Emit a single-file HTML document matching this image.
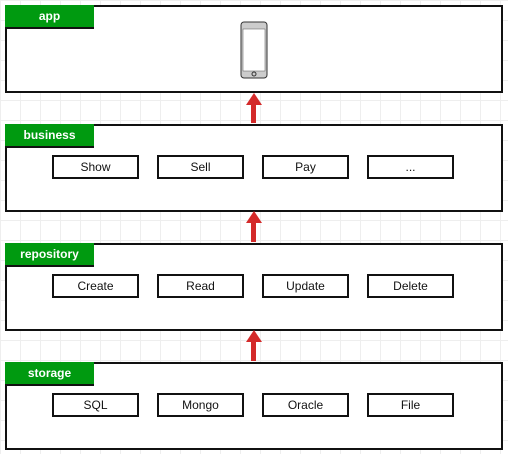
<!DOCTYPE html>
<html><head><style>
body{margin:0;width:508px;height:454px;overflow:hidden;position:relative;font-family:"Liberation Sans",sans-serif;
background-color:#fff;background-image:linear-gradient(#eee 1px,transparent 1px),linear-gradient(90deg,#eee 1px,transparent 1px);background-size:20px 20px;}
.p{position:absolute;left:5px;width:494px;height:84px;border:2px solid #111;background:#fff;}
.l{position:absolute;left:-2px;top:-2px;width:89px;height:22px;background:#009a10;border-bottom:2px solid #111;color:#fff;font-weight:bold;font-size:12px;line-height:22px;text-align:center;}
.b{position:absolute;top:29px;width:83px;height:20px;border:2px solid #111;background:#fff;font-size:12px;line-height:20px;text-align:center;color:#111;}
.a{position:absolute;left:251px;width:5px;background:#d42a2a;}
.h{position:absolute;left:246px;width:0;height:0;border-left:8px solid transparent;border-right:8px solid transparent;border-bottom:12px solid #d42a2a;}
</style></head><body>
<div class="p" style="top:5px"><div class="l">app</div>
<svg style="position:absolute;left:233px;top:14px" width="30" height="60"><rect x="1" y="1" width="26" height="56" rx="3" fill="#ccc" stroke="#333" stroke-width="1"/><rect x="3" y="8" width="22" height="42" fill="#fff" stroke="#555" stroke-width="0.5"/><circle cx="14" cy="53" r="2" fill="none" stroke="#333"/></svg></div>
<div class="h" style="top:93px"></div><div class="a" style="top:104px;height:19px"></div>
<div class="p" style="top:124px"><div class="l">business</div>
<div class="b" style="left:45px">Show</div><div class="b" style="left:150px">Sell</div><div class="b" style="left:255px">Pay</div><div class="b" style="left:360px">...</div></div>
<div class="h" style="top:211px"></div><div class="a" style="top:222px;height:20px"></div>
<div class="p" style="top:243px"><div class="l">repository</div>
<div class="b" style="left:45px">Create</div><div class="b" style="left:150px">Read</div><div class="b" style="left:255px">Update</div><div class="b" style="left:360px">Delete</div></div>
<div class="h" style="top:330px"></div><div class="a" style="top:341px;height:20px"></div>
<div class="p" style="top:362px"><div class="l">storage</div>
<div class="b" style="left:45px">SQL</div><div class="b" style="left:150px">Mongo</div><div class="b" style="left:255px">Oracle</div><div class="b" style="left:360px">File</div></div>
</body></html>
